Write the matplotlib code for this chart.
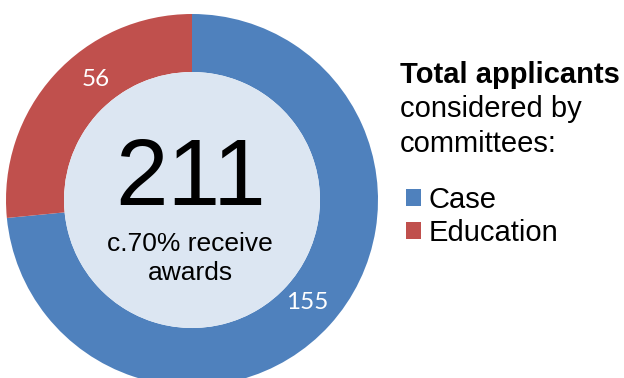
import numpy as np
import matplotlib
matplotlib.use("Agg")
import matplotlib.pyplot as plt
from matplotlib.patches import Circle

# data
categories = ["Case", "Education"]
counts = [155, 56]
colors = ["#4f81bd", "#c0504d"]
total = sum(counts)
centre_lines = ["c.70% receive", "awards"]
title_lines = ["Total applicants", "considered by", "committees:"]

# label placement (radius, angle in degrees) as in the original
label_pos = [(0.83, -41.5), (0.83, 128.7)]

plt.rcParams["font.family"] = ["Liberation Sans", "DejaVu Sans"]

fig = plt.figure(figsize=(6.24, 3.78), dpi=100)
ax = fig.add_axes([0, 0, 1, 1])

R = 186.0  # outer radius in px
cx, cy = 192.0, 200.0  # centre in px from top-left
hole = 128.0 / R

wedges, _ = ax.pie(counts, colors=colors, startangle=90, counterclock=False,
                   radius=1.0, wedgeprops=dict(width=1 - hole, linewidth=0))
ax.add_patch(Circle((0, 0), hole, facecolor="#dce6f2", edgecolor="none"))

for (r, a), v in zip(label_pos, counts):
    ax.text(r * np.cos(np.radians(a)), r * np.sin(np.radians(a)), str(v),
            color="white", fontsize=17.5, family=["Lato", "DejaVu Sans"],
            ha="center", va="center")

ax.text(-0.01, (cy - 205) / R, str(total), fontsize=68, ha="center", va="baseline")
ax.text(-0.01, (cy - 251) / R, centre_lines[0], fontsize=19, ha="center", va="baseline")
ax.text(-0.01, (cy - 280) / R, centre_lines[1], fontsize=19, ha="center", va="baseline")

ax.set_xlim(-cx / R, (624 - cx) / R)
ax.set_ylim(-(378 - cy) / R, cy / R)
ax.set_aspect("auto")
ax.axis("off")

fig.text(400 / 624, 1 - 83 / 378, title_lines[0], fontsize=21, fontweight="bold", va="baseline")
fig.text(400 / 624, 1 - 117 / 378, title_lines[1], fontsize=21, va="baseline")
fig.text(400 / 624, 1 - 152 / 378, title_lines[2], fontsize=21, va="baseline")

fig.legend(wedges, categories, loc="upper left", bbox_to_anchor=(406 / 624, 1 - 186 / 378),
           frameon=False, fontsize=21, handlelength=0.52, handleheight=0.52,
           handletextpad=0.25, labelspacing=0.17, borderpad=0, borderaxespad=0)

fig.savefig("out.png", dpi=100)
